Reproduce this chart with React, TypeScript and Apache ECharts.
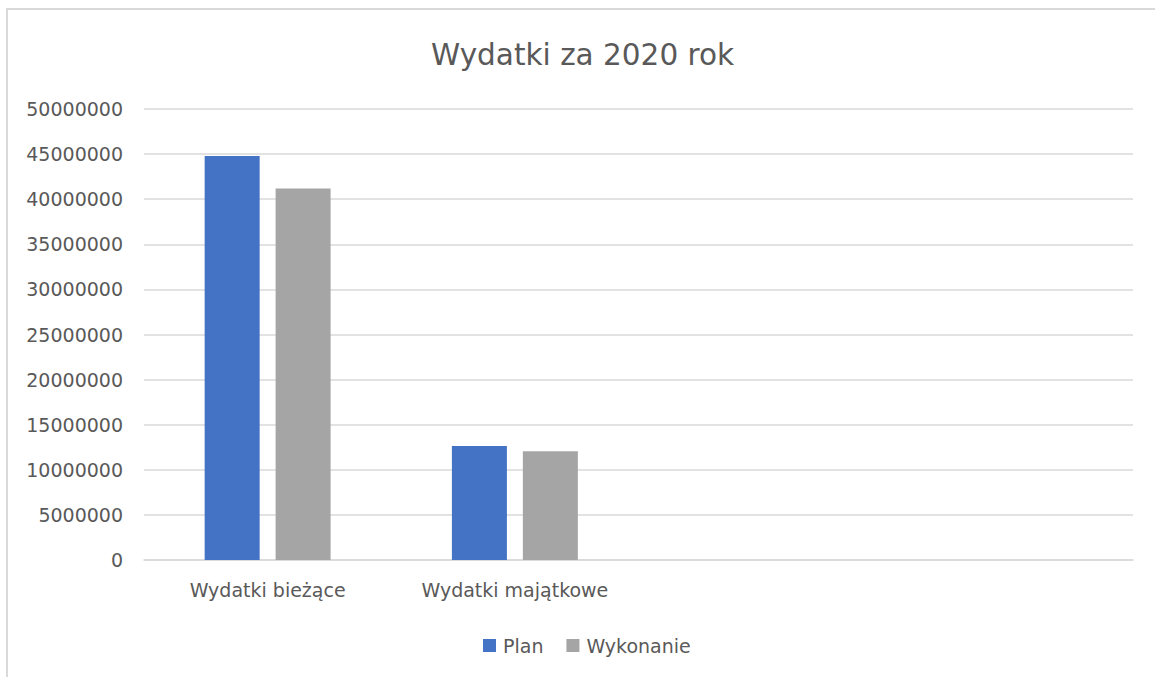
import React, { useEffect, useRef } from "react";
import * as echarts from "echarts";

const categories = ["Wydatki bieżące", "Wydatki majątkowe", "", ""];
const planValues = [44800000, 12650000, null, null];
const wykonanieValues = [41200000, 12050000, null, null];
const seriesNames = ["Plan", "Wykonanie"];
const chartTitle = "Wydatki za 2020 rok";

const FONT = "'DejaVu Sans', sans-serif";
const TEXT = "#595959";

export default function App() {
  const ref = useRef<HTMLDivElement>(null);
  useEffect(() => {
    if (!ref.current) return;
    const chart = echarts.init(ref.current, null, { renderer: "svg" });
    chart.setOption({
      animation: false,
      backgroundColor: "#ffffff",
      title: {
        text: chartTitle,
        left: 431,
        top: 40,
        padding: 0,
        textStyle: { fontFamily: FONT, fontSize: 29.5, fontWeight: "normal", color: TEXT },
      },
      graphic: [
        {
          type: "rect",
          shape: { x: 7, y: 9, width: 1170, height: 700 },
          style: { fill: "none", stroke: "#d9d9d9", lineWidth: 2 },
          silent: true,
          z: 0,
        },
      ],
      legend: {
        data: seriesNames,
        left: 483,
        top: 636,
        padding: 0,
        itemWidth: 13,
        itemHeight: 13,
        itemGap: 23,
        icon: "rect",
        textStyle: { fontFamily: FONT, fontSize: 19, color: TEXT, padding: [0, 0, 0, 2] },
      },
      grid: { left: 144, right: 22, top: 109, bottom: 117, containLabel: false },
      xAxis: {
        type: "category",
        data: categories,
        axisLine: { lineStyle: { color: "#d9d9d9", width: 1.5 } },
        axisTick: { show: false },
        axisLabel: { fontFamily: FONT, fontSize: 19, color: TEXT, margin: 20, interval: 0 },
      },
      yAxis: {
        type: "value",
        min: 0,
        max: 50000000,
        interval: 5000000,
        axisLine: { show: false },
        axisTick: { show: false },
        splitLine: { lineStyle: { color: "#d9d9d9", width: 1.5 } },
        axisLabel: {
          fontFamily: FONT,
          fontSize: 19,
          color: TEXT,
          margin: 21,
          formatter: (v: number) => String(v),
        },
      },
      series: [
        {
          name: seriesNames[0],
          type: "bar",
          data: planValues,
          barWidth: 55,
          barGap: "29%",
          itemStyle: { color: "#4472C4" },
        },
        {
          name: seriesNames[1],
          type: "bar",
          data: wykonanieValues,
          barWidth: 55,
          barGap: "29%",
          itemStyle: { color: "#A5A5A5" },
        },
      ],
    });
    return () => chart.dispose();
  }, []);
  return (
    <div
      ref={ref}
      style={{ position: "absolute", left: 0, top: 0, width: 1155, height: 677 }}
    />
  );
}
